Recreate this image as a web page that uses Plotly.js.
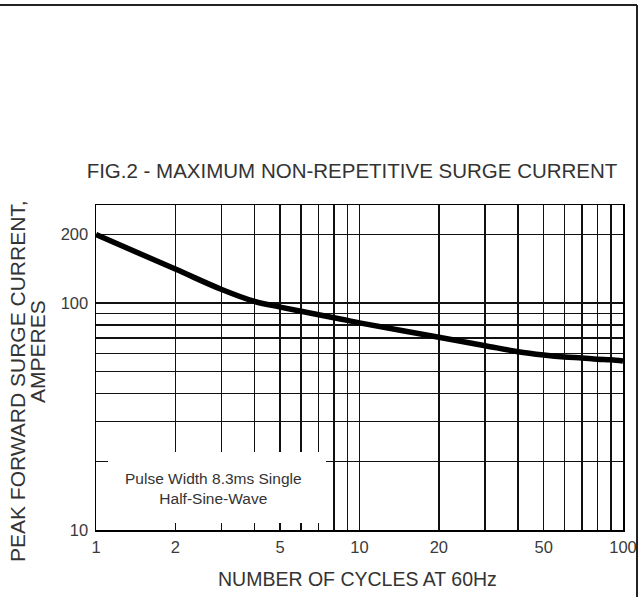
<!DOCTYPE html>
<html>
<head>
<meta charset="utf-8">
<script src="https://cdn.plot.ly/plotly-3.0.1.min.js"></script>
<style>
  html, body { margin: 0; padding: 0; background: #ffffff; }
  #chart { width: 643px; height: 597px; }
</style>
</head>
<body>
<div id="chart"></div>
<script>
// ---- data ----
const cycles = [1, 2, 3, 4, 5, 6, 7, 8, 9, 10, 20, 30, 40, 50, 60, 70, 80, 90, 100];
const surgeCurrent = [200, 141, 114.6, 101.5, 95.9, 91.9, 88.7, 86, 83.8, 81.7, 70.6, 64.8, 61, 59, 57.8, 57.2, 56.5, 56.2, 55.5];

const xGridVals = [1, 2, 3, 4, 5, 6, 7, 8, 9, 10, 20, 30, 40, 50, 60, 70, 80, 90, 100];
const xGridText = ['1', '2', '', '', '5', '', '', '', '', '10', '20', '', '', '50', '', '', '', '', '100'];
const yGridVals = [10, 20, 30, 40, 50, 60, 70, 80, 90, 100, 200];
const yGridText = ['10', '', '', '', '', '', '', '', '', '100', '200'];

const titleText = 'FIG.2 - MAXIMUM NON-REPETITIVE SURGE CURRENT';
const yTitleLine1 = 'PEAK FORWARD SURGE CURRENT,';
const yTitleLine2 = 'AMPERES';
const xTitleText = 'NUMBER OF CYCLES AT 60Hz';
const noteText = 'Pulse Width 8.3ms Single<br>Half-Sine-Wave';

// ---- layout helpers (pixels -> paper) ----
const W = 643, H = 597;
const M = { l: 96, r: 20, t: 205, b: 67 };
const PW = W - M.l - M.r, PH = H - M.t - M.b;
const px = x => (x - M.l) / PW;
const py = y => (H - M.b - y) / PH;

const FONT = '"Liberation Sans", Arial, sans-serif';

const trace = {
  x: cycles,
  y: surgeCurrent,
  type: 'scatter',
  mode: 'lines',
  line: { color: '#000000', width: 5.5, shape: 'spline', smoothing: 1 },
  hoverinfo: 'x+y',
  showlegend: false,
  cliponaxis: false
};

const axisCommon = {
  type: 'log',
  showgrid: true,
  gridcolor: '#111111',
  gridwidth: 1.5,
  showline: true,
  linecolor: '#000000',
  linewidth: 1.5,
  mirror: true,
  ticks: '',
  zeroline: false,
  tickmode: 'array',
  tickfont: { family: FONT, size: 16.5, color: '#3a3a3a' }
};

const layout = {
  width: W,
  height: H,
  margin: M,
  paper_bgcolor: '#ffffff',
  plot_bgcolor: '#ffffff',
  title: {
    text: titleText,
    font: { family: FONT, size: 20.5, color: '#333333' },
    x: 352 / W,
    xref: 'container',
    xanchor: 'center',
    y: 1 - 171 / H,
    yref: 'container',
    yanchor: 'middle'
  },
  xaxis: Object.assign({}, axisCommon, {
    range: [0, 2],
    tickvals: xGridVals,
    ticktext: xGridText,
    ticklabelstandoff: 2
  }),
  yaxis: Object.assign({}, axisCommon, {
    range: [1, Math.log10(270)],
    tickvals: yGridVals,
    ticktext: yGridText,
    ticklabelstandoff: 3
  }),
  shapes: [
    // white box behind the pulse-width note
    { type: 'rect', xref: 'paper', yref: 'paper', layer: 'above',
      x0: px(108), x1: px(326), y0: py(523), y1: py(452),
      fillcolor: '#ffffff', line: { width: 0 } },
    // outer frame: top and right edges
    { type: 'line', xref: 'paper', yref: 'paper', layer: 'above',
      x0: px(0), x1: px(637), y0: py(5), y1: py(5),
      line: { color: '#222222', width: 2 } },
    { type: 'line', xref: 'paper', yref: 'paper', layer: 'above',
      x0: px(637), x1: px(637), y0: py(5), y1: py(597),
      line: { color: '#222222', width: 2 } }
  ],
  annotations: [
    { text: noteText, xref: 'paper', yref: 'paper',
      x: px(213), y: py(488), xanchor: 'center', yanchor: 'middle',
      showarrow: false, align: 'center',
      font: { family: FONT, size: 15.5, color: '#333333' } },
    { text: yTitleLine1, xref: 'paper', yref: 'paper',
      x: px(17), y: py(381), xanchor: 'center', yanchor: 'middle',
      textangle: -90, showarrow: false,
      font: { family: FONT, size: 21, color: '#333333' } },
    { text: yTitleLine2, xref: 'paper', yref: 'paper',
      x: px(37), y: py(352), xanchor: 'center', yanchor: 'middle',
      textangle: -90, showarrow: false,
      font: { family: FONT, size: 21, color: '#333333' } },
    { text: xTitleText, xref: 'paper', yref: 'paper',
      x: px(357.5), y: py(579), xanchor: 'center', yanchor: 'middle',
      showarrow: false,
      font: { family: FONT, size: 19.5, color: '#333333' } }
  ]
};

Plotly.newPlot('chart', [trace], layout, { displayModeBar: false, staticPlot: true });
</script>
</body>
</html>
